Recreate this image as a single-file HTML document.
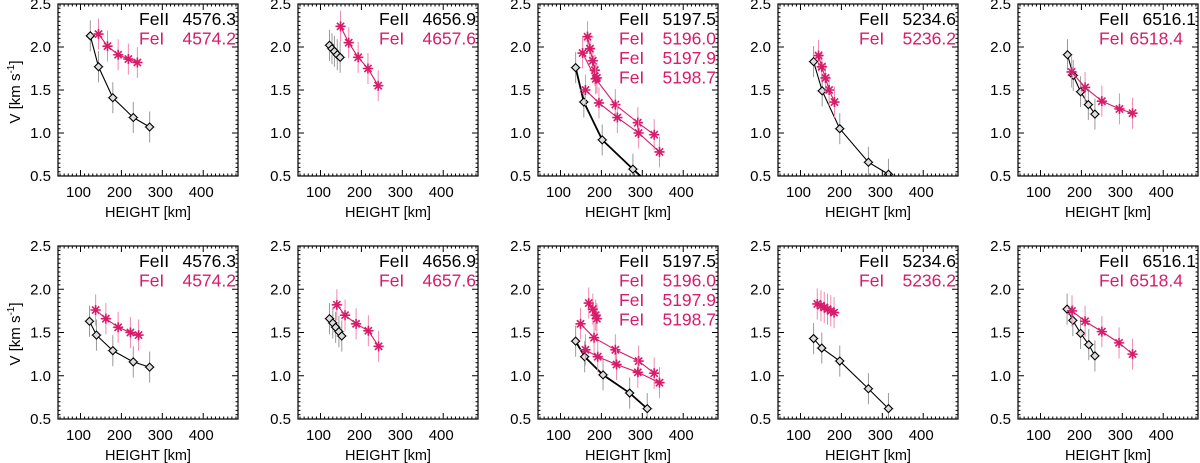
<!DOCTYPE html>
<html><head><meta charset="utf-8"><style>
html,body{margin:0;padding:0;background:#fff;}
svg{display:block;font-family:"Liberation Sans",sans-serif;}
</style></head><body>
<svg id="fig" width="1200" height="463" viewBox="0 0 1200 463" xmlns="http://www.w3.org/2000/svg"></svg>
<script>
// ---------- data ----------
const yTicks = [0.5, 1.0, 1.5, 2.0, 2.5];
const xTicks = [100, 200, 300, 400];
const ionLabels = ["FeII", "FeI"];
const feiiLines = ["4576.3", "4656.9", "5197.5", "5234.6", "6516.1"];
const feiLines = [["4574.2"], ["4657.6"], ["5196.0", "5197.9", "5198.7"], ["5236.2"], ["6518.4"]];

const blackH = [
  [[124,144,179,229,269],[122,128,134,141,148],[137,157,202,277,330],[132,153,196,266,315],[166,180,198,217,233]],
  [[122,139,179,229,269],[122,130,137,145,152],[137,159,204,269,312],[132,152,196,266,315],[165,179,198,218,233]]
];
const blackV = [
  [[2.13,1.77,1.41,1.18,1.07],[2.02,1.98,1.95,1.91,1.88],[1.76,1.36,0.92,0.58,0.35],[1.83,1.49,1.05,0.66,0.52],[1.91,1.67,1.48,1.33,1.22]],
  [[1.63,1.47,1.29,1.16,1.10],[1.66,1.61,1.56,1.51,1.46],[1.40,1.22,1.01,0.80,0.62],[1.43,1.32,1.17,0.85,0.62],[1.77,1.64,1.49,1.36,1.23]]
];
const pinkH = [
  [[[144,166,192,217,239]],[[149,169,192,216,241]],[[166,172,179,184,189],[154,186,234,289,329],[161,194,239,291,342]],[[144,152,161,170,183]],[[176,209,250,293,325]]],
  [[[137,162,192,222,242]],[[140,160,187,217,242]],[[169,179,186,189],[149,182,234,291,329],[161,191,237,289,342]],[[141,150,158,166,174,182]],[[177,209,250,292,325]]]
];
const pinkV = [
  [[[2.15,2.01,1.91,1.86,1.82]],[[2.24,2.05,1.88,1.75,1.55]],[[2.12,1.98,1.84,1.73,1.64],[1.93,1.63,1.33,1.12,0.98],[1.50,1.35,1.18,1.00,0.78]],[[1.90,1.77,1.64,1.50,1.36]],[[1.71,1.53,1.37,1.28,1.23]]],
  [[[1.76,1.66,1.56,1.50,1.47]],[[1.82,1.70,1.60,1.52,1.34]],[[1.84,1.77,1.70,1.66],[1.60,1.44,1.30,1.17,1.03],[1.30,1.22,1.13,1.04,0.92]],[[1.83,1.81,1.79,1.77,1.75,1.73]],[[1.75,1.63,1.51,1.38,1.25]]]
];
const errV = 0.18;
const errH = 14;

// ---------- layout ----------
const NS = "http://www.w3.org/2000/svg";
const svg = document.getElementById("fig");
const PINK = "#d81b6a";
const X0 = 45, X1 = 485, Y0 = 0.5, Y1 = 2.5, BW = 180;
const rowTop = [4, 246], BH = [172, 173];

function el(tag, attrs, parent) {
  const e = document.createElementNS(NS, tag);
  for (const k in attrs) e.setAttribute(k, attrs[k]);
  (parent || svg).appendChild(e);
  return e;
}

for (let r = 0; r < 2; r++) {
  for (let c = 0; c < 5; c++) {
    const L = 58 + c * 240, T = rowTop[r], H = BH[r];
    const sx = h => L + (h - X0) / (X1 - X0) * BW;
    const sy = v => T + H - (v - Y0) / (Y1 - Y0) * H;
    const g = el("g", {});
    
    
    const clipId = "clip" + r + c;
    const cp = el("clipPath", { id: clipId }, g);
    el("rect", { x: L, y: T, width: BW, height: H }, cp);
    const plot = el("g", { "clip-path": "url(#" + clipId + ")" }, g);

    function series(hs, vs, color, isBlack, thick) {
      const eg = el("g", {}, plot);
      
      
      hs.forEach((h, i) => {
        const x = sx(h), y = sy(vs[i]);
        el("line", { x1: x, x2: x, y1: sy(vs[i] + errV), y2: sy(vs[i] - errV), stroke: isBlack ? "#999" : "#f08ab0", "stroke-width": 1 }, eg);
        el("line", { x1: sx(h - errH), x2: sx(h + errH), y1: y, y2: y, stroke: isBlack ? "#ccc" : "#f8c0d6", "stroke-width": 1 }, eg);
      });
      const pts = hs.map((h, i) => sx(h) + "," + sy(vs[i])).join(" ");
      el("polyline", { points: pts, fill: "none", stroke: color, "stroke-width": thick ? 1.8 : 1.1 }, eg);
      hs.forEach((h, i) => {
        const x = sx(h), y = sy(vs[i]);
        if (isBlack) {
          const m = el("polygon", { points: `${x},${y-4} ${x+4},${y} ${x},${y+4} ${x-4},${y}`, fill: "#ddd", stroke: "#000", "stroke-width": 1.1 }, eg);
          
          
        } else {
          const s = 5;
          const m = el("path", { d: `M${x-s},${y}H${x+s}M${x},${y-s}V${y+s}M${x-3.6},${y-3.6}L${x+3.6},${y+3.6}M${x-3.6},${y+3.6}L${x+3.6},${y-3.6}`, stroke: PINK, "stroke-width": 1.6 }, eg);
          
          
        }
      });
    }
    series(blackH[r][c], blackV[r][c], "#000", true, c === 2);
    pinkH[r][c].forEach((hs, k) => series(hs, pinkV[r][c][k], PINK, false, false));

    const fr = el("rect", { x: L, y: T, width: BW, height: H, fill: "none", stroke: "#000", "stroke-width": 1.2 }, g);
    
    
    let d = "";
    for (let v = 0.5; v <= 2.5001; v += 0.05) {
      const y = sy(v); const major = Math.abs(v * 2 - Math.round(v * 2)) < 1e-6;
      const len = major ? 6 : 2.5;
      d += `M${L},${y}h${len}M${L + BW},${y}h${-len}`;
    }
    for (let h = 50; h <= 480; h += 10) {
      const x = sx(h); const major = h % 100 === 0; const len = major ? 6 : 2.5;
      d += `M${x},${T + H}v${-len}M${x},${T}v${len}`;
    }
    el("path", { d: d, stroke: "#000", "stroke-width": 1, fill: "none" }, g);

    yTicks.forEach(v => {
      const t = el("text", { x: L - 7, y: sy(v) + 5, "text-anchor": "end", "font-size": 15, fill: "#000" }, g);
      t.textContent = v.toFixed(1);
      
      
    });
    xTicks.forEach(h => {
      const t = el("text", { x: sx(h) - 2, y: T + H + 21, "text-anchor": "middle", "font-size": 15, fill: "#000" }, g);
      t.textContent = h;
      
      
    });
    const xl = el("text", { x: L + 90, y: T + H + 41, "text-anchor": "middle", "font-size": 14.5, fill: "#000" }, g);
    xl.textContent = "HEIGHT [km]";
    
    
    if (c === 0) {
      const yl = el("text", { transform: `translate(${L - 38},${T + 88}) rotate(-90)`, "text-anchor": "middle", "font-size": 15, fill: "#000" }, g);
      yl.innerHTML = 'V [km s<tspan dy="-6" font-size="10">-1</tspan><tspan dy="6">]</tspan>';
      
      
    }
    const lines = [[ionLabels[0], feiiLines[c], "#000"]].concat(feiLines[c].map(w => [ionLabels[1], w, PINK]));
    lines.forEach((ln, k) => {
      const y = T + 21 + k * 19.5;
      const a = el("text", { x: L + 81, y: y, "text-anchor": "start", "font-size": 17.5, fill: ln[2] }, g);
      a.textContent = ln[0];
      
      
      const compact = (c === 4 && k > 0);
      const b = el("text", { x: compact ? L + 165 : L + BW - 2, y: y, "text-anchor": "end", "font-size": 17.5, fill: ln[2] }, g);
      b.textContent = ln[1];
      
      
    });
  }
}
</script>
</body></html>
